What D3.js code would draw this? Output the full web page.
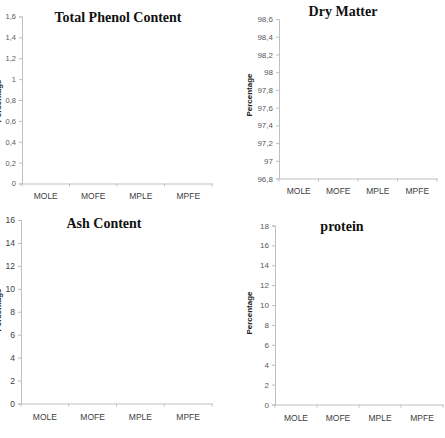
<!DOCTYPE html>
<html>
<head>
<meta charset="utf-8">
<script src="https://cdn.jsdelivr.net/npm/d3@7"></script>
<style>
  body { margin: 0; background: #fff; }
  svg { display: block; }
</style>
</head>
<body>
<svg id="chart" width="445" height="438"></svg>
<script>
// categories shared by all four panels
let categories = ["MOLE", "MOFE", "MPLE", "MPFE"];

// y tick values per panel (the panels carry no bars)
let phenolTicks = [0, 0.2, 0.4, 0.6, 0.8, 1, 1.2, 1.4, 1.6];
let dryTicks = [96.8, 97, 97.2, 97.4, 97.6, 97.8, 98, 98.2, 98.4, 98.6];
let ashTicks = [0, 2, 4, 6, 8, 10, 12, 14, 16];
let proteinTicks = [0, 2, 4, 6, 8, 10, 12, 14, 16, 18];

// values per panel: nothing plotted in the reference
let phenolValues = [];
let dryValues = [];
let ashValues = [];
let proteinValues = [];

let titles = ["Total Phenol Content", "Dry Matter", "Ash Content", "protein"];

let svg = d3.select('#chart');
let fmt = d => String(+d.toFixed(1)).replace('.', ',');

function drawPanel(p){
    let g = svg.append('g');
    let y = d3.scaleLinear().domain([p.ticks[0], p.ticks[p.ticks.length - 1]]).range([p.y1, p.y0]);
    let x = d3.scaleBand().domain(categories).range([p.x0, p.x1]);

    // y axis
    let ya = g.append('g')
        .attr('transform', `translate(${p.x0},0)`)
        .call(d3.axisLeft(y).tickValues(p.ticks).tickFormat(fmt).tickSize(3).tickPadding(3));
    ya.select('.domain').attr('stroke', '#bfbfbf');
    ya.selectAll('.tick line').attr('stroke', '#bfbfbf');
    ya.selectAll('.tick text')
        .attr('fill', p.tickColor)
        .style('font-family', 'Liberation Sans, Arial, sans-serif')
        .style('font-size', p.tickSize + 'px');

    // x axis: ticks on category boundaries
    let xa = g.append('g')
        .attr('transform', `translate(0,${p.y1})`)
        .call(d3.axisBottom(x).tickSize(0).tickPadding(p.labelPad));
    xa.select('.domain').attr('stroke', '#bfbfbf');
    xa.selectAll('.tick text')
        .attr('fill', '#404040')
        .style('font-family', 'Liberation Sans, Arial, sans-serif')
        .style('font-size', '8.5px');
    let bounds = categories.map(c => x(c)).concat([p.x1]);
    xa.selectAll('line.sep').data(bounds).join('line')
        .attr('class', 'sep')
        .attr('x1', d => d).attr('x2', d => d)
        .attr('y1', 0).attr('y2', 3)
        .attr('stroke', '#bfbfbf');

    // bars (none in reference)
    g.selectAll('rect.bar').data(p.values).join('rect')
        .attr('class', 'bar')
        .attr('x', (d, i) => x(categories[i]) + x.bandwidth() * 0.25)
        .attr('width', x.bandwidth() * 0.5)
        .attr('y', d => y(d))
        .attr('height', d => p.y1 - y(d))
        .attr('fill', '#4f81bd');

    // title
    g.append('text')
        .attr('x', p.titleX).attr('y', p.titleY)
        .attr('text-anchor', 'middle')
        .style('font-family', 'Liberation Serif, Times New Roman, serif')
        .style('font-weight', 'bold')
        .style('font-size', '14px')
        .attr('fill', '#111')
        .text(p.title);

    // y label
    g.append('text')
        .attr('transform', `translate(${p.labelX},${p.labelY}) rotate(-90)`)
        .attr('text-anchor', 'middle')
        .style('font-family', 'Liberation Sans, Arial, sans-serif')
        .style('font-weight', 'bold')
        .style('font-size', '8px')
        .attr('fill', '#222')
        .text('Percentage');
}

drawPanel({ticks: phenolTicks, values: phenolValues, title: titles[0],
    x0: 22, x1: 212, y0: 16.5, y1: 183.5, labelPad: 9,
    titleX: 118, titleY: 22, labelX: 1, labelY: 101, tickColor: '#595959', tickSize: 7.5});
drawPanel({ticks: dryTicks, values: dryValues, title: titles[1],
    x0: 279, x1: 437, y0: 19, y1: 178.5, labelPad: 9,
    titleX: 343, titleY: 16, labelX: 252, labelY: 95, tickColor: '#595959', tickSize: 8});
drawPanel({ticks: ashTicks, values: ashValues, title: titles[2],
    x0: 21, x1: 212, y0: 220, y1: 403.5, labelPad: 10,
    titleX: 104, titleY: 228, labelX: 1, labelY: 310, tickColor: '#404040', tickSize: 8.5});
drawPanel({ticks: proteinTicks, values: proteinValues, title: titles[3],
    x0: 275, x1: 443, y0: 225.5, y1: 404.5, labelPad: 10,
    titleX: 342, titleY: 231, labelX: 252, labelY: 313, tickColor: '#595959', tickSize: 8});
</script>
</body>
</html>
